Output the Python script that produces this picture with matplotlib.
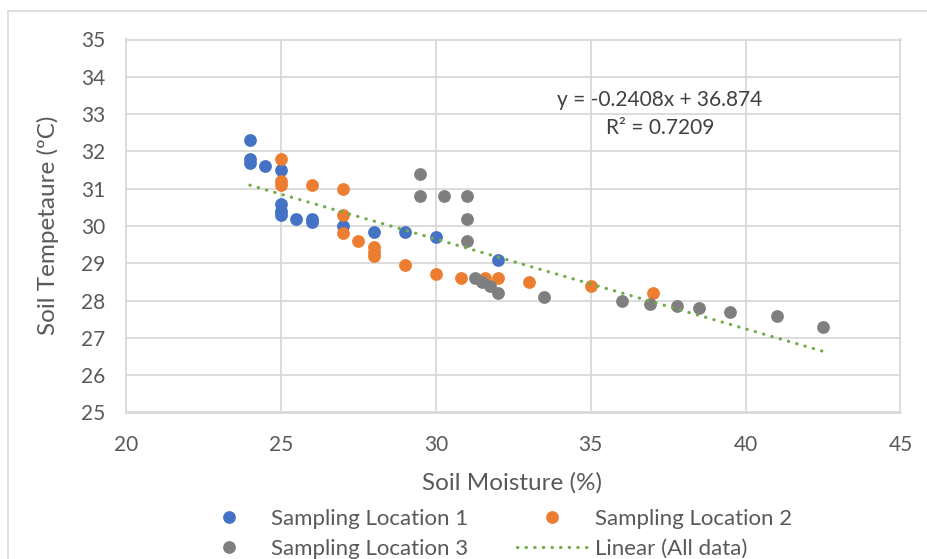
import matplotlib
matplotlib.use("Agg")
import matplotlib.pyplot as plt
from matplotlib.patches import Rectangle
import numpy as np

plt.rcParams['font.family'] = ['Lato', 'DejaVu Sans']

# Sampling Location 1
loc1_x = [24, 24, 24, 24.5, 25, 25, 25, 25, 25.5, 26, 26, 27, 28, 29, 30, 32]
loc1_y = [32.3, 31.8, 31.7, 31.6, 31.5, 30.6, 30.4, 30.3, 30.2, 30.2, 30.1, 30.0, 29.85, 29.85, 29.7, 29.1]

# Sampling Location 2
loc2_x = [25, 25, 25, 26, 27, 27, 27, 27.5, 28, 28, 28, 29, 30, 30.8, 31.6, 32, 33, 35, 37]
loc2_y = [31.8, 31.2, 31.1, 31.1, 31.0, 30.3, 29.8, 29.6, 29.45, 29.3, 29.2, 28.95, 28.7, 28.6, 28.6, 28.6, 28.5, 28.4, 28.2]

# Sampling Location 3
loc3_x = [29.5, 29.5, 30.25, 31, 31, 31, 31.25, 31.5, 31.75, 32, 33.5, 36, 36.9, 37.8, 38.5, 39.5, 41, 42.5]
loc3_y = [31.4, 30.8, 30.8, 30.8, 30.2, 29.6, 28.6, 28.5, 28.4, 28.2, 28.1, 28.0, 27.9, 27.85, 27.8, 27.7, 27.6, 27.3]

# Trendline (All data)
trend_slope = -0.2408
trend_intercept = 36.874
trend_label = "y = -0.2408x + 36.874"
r2_label = "R\u00b2 = 0.7209"

x_ticks = [20, 25, 30, 35, 40, 45]
y_ticks = [25, 26, 27, 28, 29, 30, 31, 32, 33, 34, 35]

W, H = 928, 559
fig = plt.figure(figsize=(W / 100, H / 100), dpi=100)
ax_l, ax_r, ax_t, ax_b = 126, 900.5, 39.5, 412.5
ax = fig.add_axes([ax_l / W, 1 - ax_b / H, (ax_r - ax_l) / W, (ax_b - ax_t) / H])

# outer chart border
fig.patches.append(Rectangle((8.5 / W, -0.1), 1.2, (1 - 11 / H) + 0.1, transform=fig.transFigure,
                             fill=False, edgecolor='#d9d9d9', linewidth=1.2))

grid_c = '#d9d9d9'
text_c = '#595959'

colors = ['#4472c4', '#ed7d31', '#7f7f7f']
ms = 9.2
h1, = ax.plot(loc1_x, loc1_y, 'o', color=colors[0], markersize=ms, markeredgewidth=0, zorder=3, label='Sampling Location 1')
h2, = ax.plot(loc2_x, loc2_y, 'o', color=colors[1], markersize=ms, markeredgewidth=0, zorder=3, label='Sampling Location 2')
h3, = ax.plot(loc3_x, loc3_y, 'o', color=colors[2], markersize=ms, markeredgewidth=0, zorder=3, label='Sampling Location 3')

all_x = np.array(loc1_x + loc2_x + loc3_x)
tx = np.array([all_x.min(), all_x.max()])
ty = trend_slope * tx + trend_intercept
h4, = ax.plot(tx, ty, color='#70ad47', linewidth=2.3, linestyle=(0, (0.1, 2.6)),
              dash_capstyle='round', zorder=4, label='Linear (All data)')

ax.set_xlim(20, 45)
ax.set_ylim(25, 35)
ax.set_xticks(x_ticks)
ax.set_yticks(y_ticks)
ax.grid(True, color=grid_c, linewidth=1.3)
ax.set_axisbelow(True)
for s in ax.spines.values():
    s.set_color(grid_c)
    s.set_linewidth(1.3)
ax.tick_params(length=0, labelsize=15, labelcolor=text_c)
ax.tick_params(axis='x', pad=16)
ax.tick_params(axis='y', pad=15)

ax.set_xlabel('Soil Moisture (%)', fontsize=17.5, color=text_c)
ax.set_ylabel('Soil Tempetaure (\u00baC)', fontsize=17.5, color=text_c)
ax.xaxis.label.set_va('center')
ax.yaxis.label.set_va('center')
ax.xaxis.set_label_coords((512 - ax_l) / (ax_r - ax_l), (ax_b - 483) / (ax_b - ax_t))
ax.yaxis.set_label_coords((48 - ax_l) / (ax_r - ax_l), (ax_b - 225) / (ax_b - ax_t))

fig.text(660 / W, 1 - 100 / H, trend_label, ha='center', va='center', fontsize=15, color='#404040')
fig.text(660 / W, 1 - 128 / H, r2_label, ha='center', va='center', fontsize=15, color='#404040')

leg = fig.legend(handles=[h1, h3, h2, h4], ncol=2, loc='upper left',
                 bbox_to_anchor=(193 / W, 1 - 509 / H), borderaxespad=0, borderpad=0,
                 frameon=False, fontsize=16, labelcolor=text_c, handlelength=3.2, columnspacing=2.2,
                 handletextpad=0.3, labelspacing=0.45, markerscale=1.0)

fig.savefig('out.png', dpi=100)
